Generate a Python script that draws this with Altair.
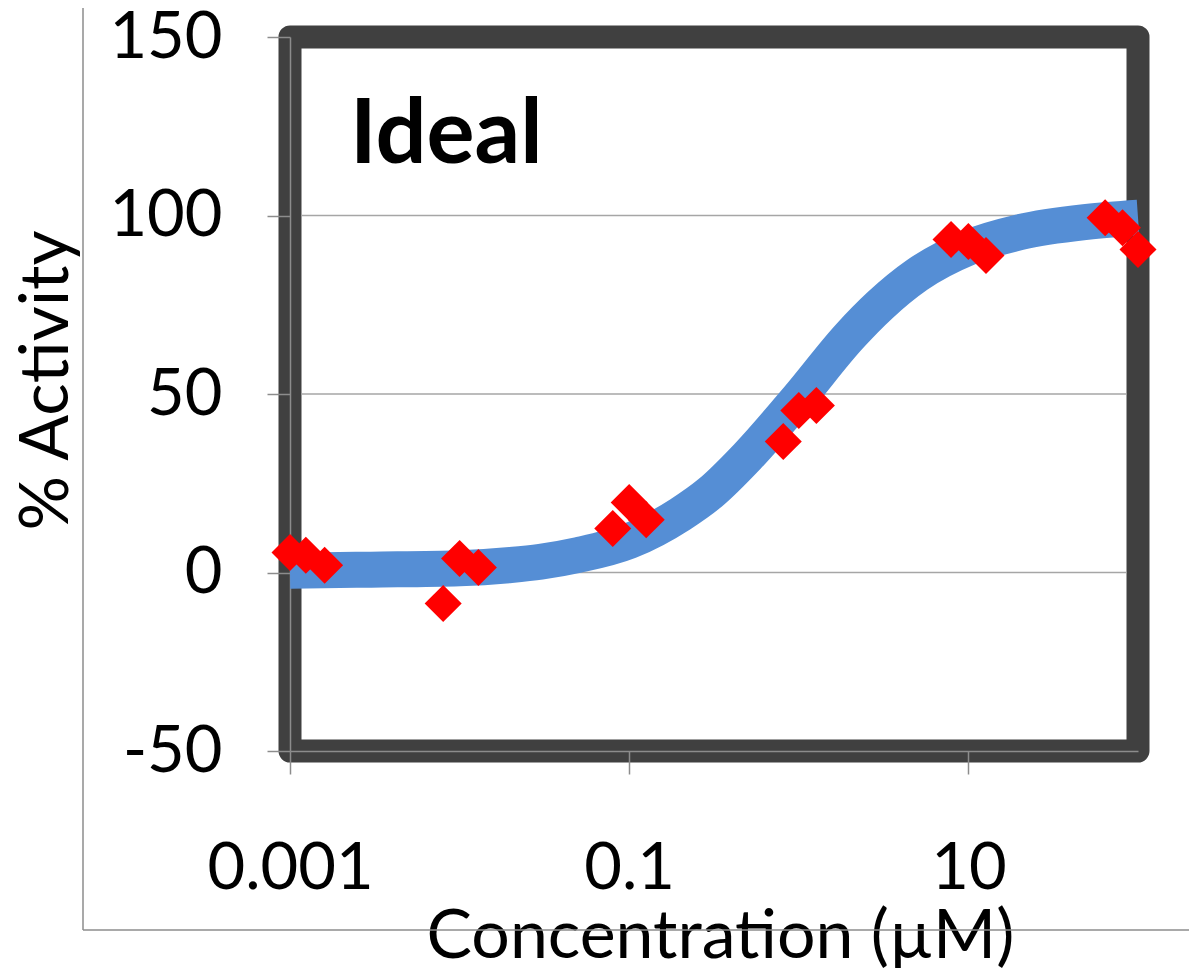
import altair as alt
import pandas as pd

# Measured replicate points (concentration in µM, % activity)
conc = [0.001, 0.00124, 0.0016,
        0.008, 0.01, 0.0129,
        0.08, 0.1, 0.126,
        0.81, 1.0, 1.27,
        7.9, 10.0, 12.7,
        64.0, 81.0, 100.0]
activity = [5.6, 4.8, 2.0,
            -8.7, 3.9, 1.4,
            12.3, 19.6, 14.8,
            36.7, 45.4, 46.8,
            93.3, 92.7, 88.8,
            99.4, 96.6, 90.5]

# Fitted curve
curve_x = [0.001, 0.003, 0.01, 0.02, 0.03, 0.05, 0.1, 0.2, 0.3, 0.5,
           1.0, 2.0, 3.0, 5.0, 10.0, 20.0, 50.0, 100.0]
curve_y = [0.5, 0.8, 1.2, 2.1, 3.0, 4.9, 8.8, 16.3, 22.3, 32.6,
           49.0, 66.3, 74.8, 83.4, 91.0, 95.3, 98.2, 99.4]

x_ticks = [0.001, 0.1, 10]
y_ticks = [-50, 0, 50, 100, 150]
grid_vals = [0, 50, 100]

pts = pd.DataFrame({"conc": conc, "act": activity})
crv = pd.DataFrame({"conc": curve_x, "act": curve_y})
grd = pd.DataFrame({"act": grid_vals})

W, H = 848, 714
FONT = "Lato"
BORDER = 23

xscale = alt.Scale(type="log", domain=[0.001, 100])
yscale = alt.Scale(domain=[-50, 150])

xaxis = alt.Axis(values=x_ticks, format="~g", grid=False, tickSize=23,
                 labelPadding=63, labelFontSize=65, labelFont=FONT,
                 labelColor="black", title="Concentration (µM)",
                 titleFontSize=68, titleFont=FONT, titleFontWeight="normal",
                 titleColor="black", titleBaseline="alphabetic",
                 titleY=206, titleX=430, domainColor="#8c8c8c",
                 tickColor="#8c8c8c", domainWidth=1.5, tickWidth=1.5,
                 labelFlush=False)
yaxis = alt.Axis(values=y_ticks, grid=False, tickSize=23, labelPadding=45,
                 labelExpr="'' + datum.value",
                 labelFontSize=65, labelFont=FONT, labelColor="black",
                 title="% Activity", titleFontSize=68, titleFont=FONT,
                 titleFontWeight="normal", titleColor="black",
                 titleBaseline="alphabetic", titleAngle=270,
                 titleX=-223, titleY=343, domainColor="#8c8c8c",
                 tickColor="#8c8c8c", domainWidth=1.5, tickWidth=1.5,
                 labelFlush=False)

grid = alt.Chart(grd).mark_rule(color="#a6a6a6", strokeWidth=1.5).encode(
    y=alt.Y("act:Q", scale=yscale, axis=yaxis),
    x=alt.value(BORDER / 2), x2=alt.value(W - BORDER / 2),
)

line = alt.Chart(crv).mark_line(color="#558ED5", strokeWidth=36,
                                interpolate="monotone", strokeCap="butt").encode(
    x=alt.X("conc:Q", scale=xscale, axis=xaxis),
    y=alt.Y("act:Q", scale=yscale, axis=yaxis),
)

points = alt.Chart(pts).mark_point(shape="diamond", filled=True, color="#FF0000",
                                   size=1370, opacity=1).encode(
    x=alt.X("conc:Q", scale=xscale),
    y=alt.Y("act:Q", scale=yscale),
)

label = alt.Chart(pd.DataFrame({"t": ["Ideal"]})).mark_text(
    font=FONT, fontSize=90, fontWeight="bold", align="left",
    baseline="alphabetic", color="black").encode(
    text="t:N", x=alt.value(60), y=alt.value(126))

frame_left = alt.Chart(pd.DataFrame({"k": [0]})).mark_rule(
    color="#8c8c8c", strokeWidth=1.5).encode(
    x=alt.value(-207), y=alt.value(-40), y2=alt.value(893))
frame_bottom = alt.Chart(pd.DataFrame({"k": [0]})).mark_rule(
    color="#8c8c8c", strokeWidth=1.5).encode(
    x=alt.value(-207), x2=alt.value(910), y=alt.value(893))

chart = alt.layer(frame_left, frame_bottom, grid, line, points, label).properties(
    width=W, height=H,
    background="white",
    autosize=alt.AutoSizeParams(type="none"),
    padding={"left": 282, "top": 29, "right": 51, "bottom": 217},
).configure_view(
    stroke="#404040", strokeWidth=BORDER, strokeJoin="round"
)

chart.save("out.html", embed_options={"renderer": "svg", "actions": False})
